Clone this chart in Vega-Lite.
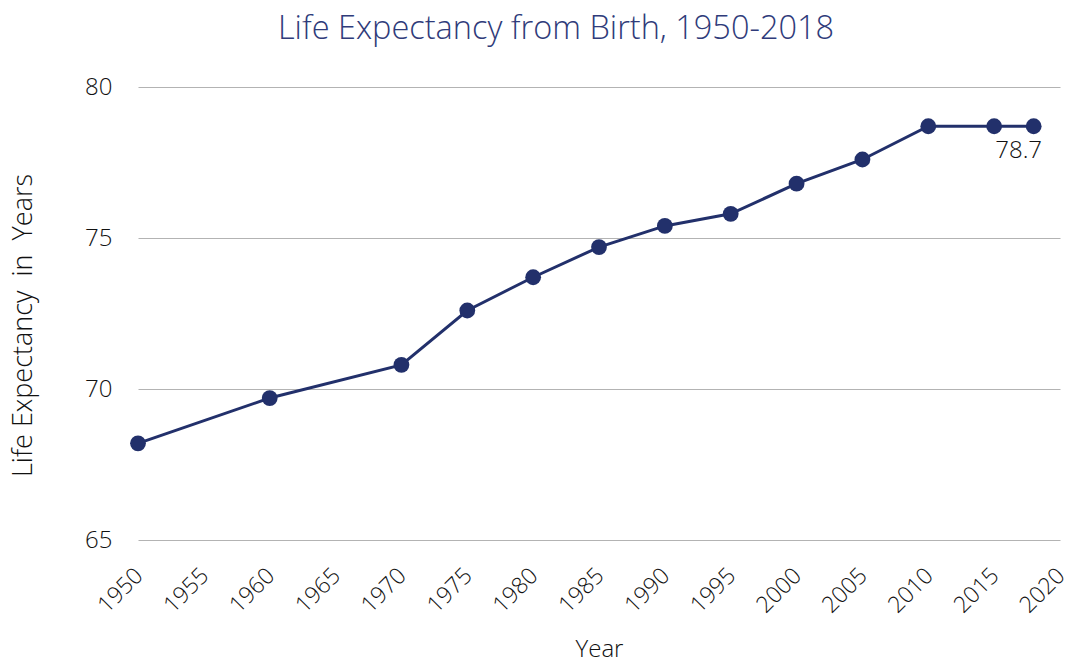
{
  "$schema": "https://vega.github.io/schema/vega-lite/v6.json",
  "width": 922,
  "height": 453,
  "autosize": {"type": "none"},
  "padding": {"left": 138, "top": 87, "right": 11, "bottom": 124},
  "background": "white",
  "config": {
    "font": "Open Sans",
    "view": {"stroke": null},
    "axis": {"labelFont": "Open Sans", "titleFont": "Open Sans", "labelColor": "#111111", "titleColor": "#111111", "titleFontWeight": "normal"}
  },
  "title": {
    "text": "Life Expectancy from Birth, 1950-2018",
    "fontSize": 32.5,
    "fontWeight": 300,
    "color": "#2f3b7a",
    "anchor": "middle",
    "dx": -43,
    "offset": 30,
    "font": "Open Sans"
  },
  "data": {
    "values": [
      {"year": 1950, "le": 68.2},
      {"year": 1960, "le": 69.7},
      {"year": 1970, "le": 70.8},
      {"year": 1975, "le": 72.6},
      {"year": 1980, "le": 73.7},
      {"year": 1985, "le": 74.7},
      {"year": 1990, "le": 75.4},
      {"year": 1995, "le": 75.8},
      {"year": 2000, "le": 76.8},
      {"year": 2005, "le": 77.6},
      {"year": 2010, "le": 78.7},
      {"year": 2015, "le": 78.7},
      {"year": 2018, "le": 78.7}
    ]
  },
  "encoding": {
    "x": {
      "field": "year", "type": "quantitative",
      "scale": {"domain": [1950, 2020], "nice": false, "zero": false},
      "axis": {
        "title": "Year", "titleFontSize": 24, "titleFontWeight": 300, "titlePadding": 20,
        "values": [1950,1955,1960,1965,1970,1975,1980,1985,1990,1995,2000,2005,2010,2015,2020],
        "format": "d", "labelAngle": -45, "labelFontSize": 23, "labelFontWeight": 300,
        "labelPadding": 24, "labelOffset": -7, "domain": false, "ticks": false, "grid": false, "labelOverlap": false
      }
    },
    "y": {
      "field": "le", "type": "quantitative",
      "scale": {"domain": [65, 80], "nice": false, "zero": false},
      "axis": {
        "title": "Life Expectancy\u00a0 in\u00a0 Years", "titleFontSize": 27, "titleFontWeight": 300, "titlePadding": 47, "titleY": 238,
        "values": [65, 70, 75, 80], "labelFontSize": 24, "labelFontWeight": 300, "labelPadding": 26,
        "domain": false, "ticks": false, "grid": true, "gridColor": "#b3b3b3", "gridWidth": 1
      }
    }
  },
  "layer": [
    {"mark": {"type": "line", "color": "#22306b", "strokeWidth": 3}},
    {"mark": {"type": "point", "filled": true, "shape": "circle", "size": 250, "color": "#22306b", "opacity": 1}},
    {
      "transform": [{"filter": "datum.year == 2018"}],
      "mark": {"type": "text", "fontSize": 24, "fontWeight": 300, "color": "#111111", "align": "center", "baseline": "top", "dx": -15, "dy": 13, "font": "Open Sans"},
      "encoding": {"text": {"field": "le", "type": "quantitative", "format": ".1f"}}
    }
  ]
}
